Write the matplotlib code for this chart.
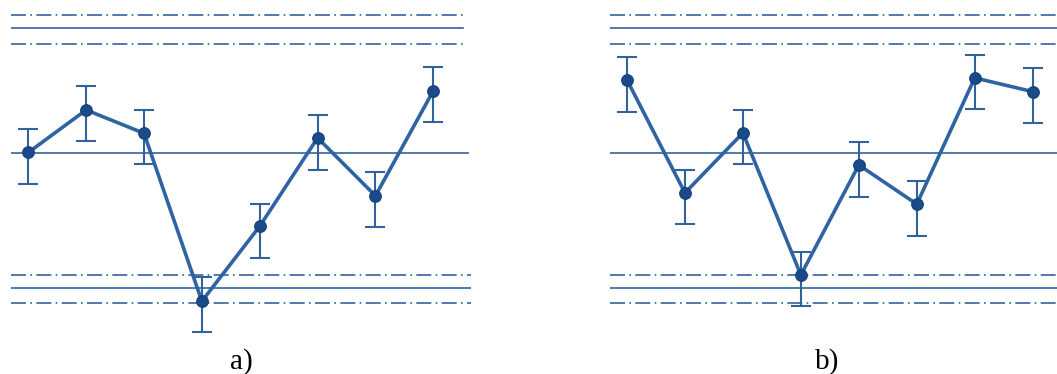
import matplotlib
matplotlib.use("Agg")
import matplotlib.pyplot as plt
import numpy as np

# ---- data (arbitrary units, centre line = 0) ----
samples = [1, 2, 3, 4, 5, 6, 7, 8]

a_mean  = [0.02, 1.04, 0.48, -3.55, -1.75, 0.37, -1.02, 1.50]
a_upper = [0.58, 1.61, 1.04, -2.97, -1.22, 0.91, -0.46, 2.07]
a_lower = [-0.74, 0.30, -0.26, -4.30, -2.51, -0.40, -1.78, 0.75]

b_mean  = [1.76, -0.95, 0.49, -2.92, -0.28, -1.22, 1.81, 1.48]
b_upper = [2.32, -0.40, 1.04, -2.38, 0.27, -0.67, 2.36, 2.04]
b_lower = [1.00, -1.70, -0.26, -3.67, -1.04, -1.99, 1.06, 0.72]

centre = 0.0
ucl, ucl_out, ucl_in = 3.0, 3.32, 2.63
lcl, lcl_in, lcl_out = -3.24, -2.92, -3.60

panel_labels = ["a)", "b)"]

# ---- styling ----
W, H = 1057, 374
LINE_C = "#2F64A2"
HL_C = "#30639C"
MK_C = "#1A4A8A"
DASHDOT = (0, (9.0, 2.6, 1.0, 2.6))

fig = plt.figure(figsize=(W / 100, H / 100), dpi=100)

def px_axes(x0, x1, y0=0, y1=340):
    return fig.add_axes([x0 / W, (H - y1) / H, (x1 - x0) / W, (y1 - y0) / H])

k = 125 / 3.0  # px per unit
ytop = 153.3 / k
ybot = (153.3 - 340) / k

def draw(ax, mean, upper, lower, xlim, top_end, mid_end, bot_end):
    ax.set_xlim(*xlim)
    ax.set_ylim(ybot, ytop)
    ax.axis("off")
    lw_h = 1.2
    ax.axhline(ucl_out, xmax=top_end, color=HL_C, lw=lw_h, ls=DASHDOT)
    ax.axhline(ucl, xmax=top_end, color=HL_C, lw=lw_h)
    ax.axhline(ucl_in, xmax=top_end, color=HL_C, lw=lw_h, ls=DASHDOT)
    ax.axhline(centre, xmax=mid_end, color=HL_C, lw=lw_h)
    ax.axhline(lcl_in, xmax=bot_end, color=HL_C, lw=lw_h, ls=DASHDOT)
    ax.axhline(lcl, xmax=bot_end, color=HL_C, lw=lw_h)
    ax.axhline(lcl_out, xmax=bot_end, color=HL_C, lw=lw_h, ls=DASHDOT)
    m = np.array(mean)
    yerr = [m - np.array(lower), np.array(upper) - m]
    ax.errorbar(samples, m, yerr=yerr, fmt="none", ecolor=HL_C,
                elinewidth=1.5, capsize=7.2, capthick=1.5, clip_on=False, zorder=3)
    ax.plot(samples, m, color=LINE_C, lw=2.6, zorder=4, clip_on=False,
            solid_joinstyle="miter")
    ax.plot(samples, m, ls="none", marker="o", ms=8.4, mfc=MK_C, mec="#163F78",
            mew=0.8, zorder=5, clip_on=False)

# panel a: axes from px 10.7 to 470.7
sp = 57.86
ax_a = px_axes(10.7, 470.7)
xa0 = 1 - (28.3 - 10.7) / sp
xa1 = 8 + (470.7 - 433.3) / sp
draw(ax_a, a_mean, a_upper, a_lower, (xa0, xa1),
     (463.3 - 10.7) / 460.0, (468.3 - 10.7) / 460.0, 1.0)

# panel b: axes from px 610.3 to 1057
spb = 57.96
ax_b = px_axes(610.3, 1057)
xb0 = 1 - (627 - 610.3) / spb
xb1 = 8 + (1057 - 1032.7) / spb
draw(ax_b, b_mean, b_upper, b_lower, (xb0, xb1), 1.0, 1.0, 1.0)

for lbl, xc in zip(panel_labels, [241, 827.5]):
    fig.text(xc / W, (H - 368.5) / H, lbl, ha="center", va="baseline",
             fontsize=21, family="Liberation Serif", color="black")

fig.savefig("out.png", dpi=100, facecolor="white")
